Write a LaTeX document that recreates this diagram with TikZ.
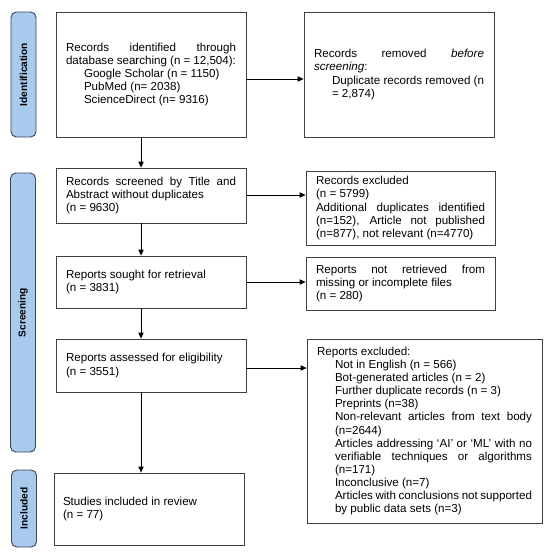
\documentclass[tikz,border=0pt]{standalone}
\usepackage{fontspec}
\setmainfont{Liberation Sans}
\usetikzlibrary{arrows.meta}
\definecolor{phasefill}{RGB}{168,202,236}
\definecolor{phasedraw}{RGB}{60,72,88}
\definecolor{boxdraw}{RGB}{64,64,64}
\begin{document}
\begin{tikzpicture}[x=0.75pt,y=-0.75pt,
  box/.style={draw=boxdraw,line width=0.6pt,rectangle,inner xsep=7.5pt,inner ysep=0pt,
    text width=127.5pt,minimum width=142.5pt,align=justify,anchor=center,
    font={\fontsize{8.7pt}{9.8pt}\selectfont\tolerance=9999\hyphenpenalty=10000\hbadness=10000}},
  phase/.style={draw=phasedraw,fill=phasefill,line width=0.7pt,rounded corners=4pt,
    minimum width=18.75pt,inner sep=0pt,anchor=center,
    font={\fontsize{7.6pt}{9pt}\selectfont\bfseries}},
  arr/.style={-{Triangle[length=4.5pt,width=4pt]},line width=0.6pt,black}]
\useasboundingbox (0,0) rectangle (550,558);
% phases
\node[phase,minimum height=93.75pt] (pid) at (23.5,74.5) {\rotatebox{90}{Identification}};
\node[phase,minimum height=209.25pt] (psc) at (23,312.5) {\rotatebox{90}{Screening}};
\node[phase,minimum height=57.75pt] (pin) at (24,508.5) {\rotatebox{90}{Included}};
% left column
\node[box,minimum height=93.75pt] (b1) at (151,74.5) {Records identified through\linebreak database searching (n = 12,504):\par
{\leftskip=13.5pt Google Scholar (n = 1150)\\ PubMed (n= 2038)\\ ScienceDirect (n= 9316)\par}};
\node[box,minimum height=41.25pt] (b2) at (151,195.5) {Records screened by Title and\linebreak Abstract without duplicates\\ (n = 9630)};
\node[box,minimum height=39pt] (b3) at (151,282) {Reports sought for retrieval\\ (n = 3831)};
\node[box,minimum height=39.75pt] (b4) at (151,365.5) {Reports assessed for eligibility\\ (n = 3551)};
\node[box,minimum height=54pt,inner xsep=6.75pt,text width=129pt] (b5) at (149,509) {Studies included in review\\ (n = 77)};
% right column
\node[box,minimum height=93.75pt] (rem) at (399,74.5) {Records removed \textit{before}\linebreak \textit{screening}:\par
{\leftskip=13.5pt Duplicate records removed (n\linebreak = 2,874)\par}};
\node[box,minimum height=55.5pt,minimum width=141.75pt,text width=126.75pt] (exc) at (400.5,208) {Records excluded\\ (n = 5799)\\ Additional duplicates identified\linebreak (n=152), Article not published\linebreak (n=877), not relevant (n=4770)};
\node[box,minimum height=39.75pt,minimum width=141.75pt,text width=126.75pt] (nrt) at (400.5,283.5) {Reports not retrieved from\linebreak missing or incomplete files\\ (n = 280)};
\node[box,minimum height=138pt,minimum width=176.25pt,text width=161.25pt] (rex) at (424.5,431) {Reports excluded:\par
{\leftskip=13.5pt Not in English (n = 566)\\ Bot-generated articles (n = 2)\\ Further duplicate records (n = 3)\\ Preprints (n=38)\\ Non-relevant articles from text body\linebreak (n=2644)\\ Articles addressing ‘AI’ or ‘ML’ with no\linebreak verifiable techniques or algorithms\linebreak (n=171)\\ Inconclusive (n=7)\\ Articles with conclusions not supported\linebreak by public data sets (n=3)\par}};
% arrow guides
\coordinate (ax) at (141,0);
\coordinate (h1) at (0,79);
\coordinate (h2) at (0,195);
\coordinate (h3) at (0,282);
\coordinate (h4) at (0,368);
% vertical arrows
\draw[arr] (b1.south -| ax) -- (b2.north -| ax);
\draw[arr] (b2.south -| ax) -- (b3.north -| ax);
\draw[arr] (b3.south -| ax) -- (b4.north -| ax);
\draw[arr] (b4.south -| ax) -- (b5.north -| ax);
% horizontal arrows
\draw[arr] (b1.east |- h1) -- (rem.west |- h1);
\draw[arr] (b2.east |- h2) -- (exc.west |- h2);
\draw[arr] (b3.east |- h3) -- (nrt.west |- h3);
\draw[arr] (b4.east |- h4) -- (rex.west |- h4);
\end{tikzpicture}
\end{document}
